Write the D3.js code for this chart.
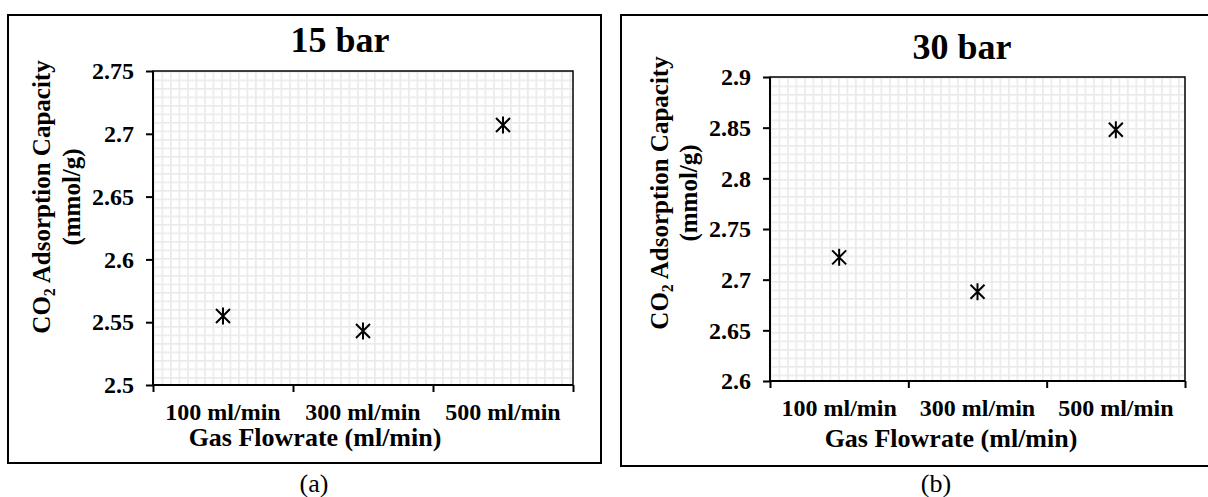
<!DOCTYPE html>
<html>
<head>
<meta charset="utf-8">
<script src="https://cdn.jsdelivr.net/npm/d3@7"></script>
<style>
  body { margin: 0; background: #fff; }
  svg text { font-family: "Liberation Serif", "Times New Roman", serif; fill: #000; }
</style>
</head>
<body>
<div id="viz"></div>
<script>
const W = 1208
const H = 497

// data
const categories = ["100 ml/min", "300 ml/min", "500 ml/min"]
const capacity15 = [2.555, 2.543, 2.707]
const capacity30 = [2.722, 2.688, 2.848]
const ticks15 = [2.5, 2.55, 2.6, 2.65, 2.7, 2.75]
const ticks30 = [2.6, 2.65, 2.7, 2.75, 2.8, 2.85, 2.9]
const titles = ["15 bar", "30 bar"]
const captions = ["(a)", "(b)"]

const panels = [
    { title: titles[0], caption: captions[0], values: capacity15, ticks: ticks15,
      box: [8, 15, 593, 448], plot: { left: 153, top: 71, right: 573, bottom: 385 },
      titleX: 340, titleY: 52, yl1: 50, yl2: 80, ylY: 197,
      xtY: 420, xaX: 315, xaY: 446, capX: 314 },
    { title: titles[1], caption: captions[1], values: capacity30, ticks: ticks30,
      box: [621, 15, 620, 451], plot: { left: 770, top: 77, right: 1185, bottom: 381 },
      titleX: 962, titleY: 59, yl1: 668, yl2: 697, ylY: 193,
      xtY: 416, xaX: 951, xaY: 447, capX: 936 }
]

let svg = d3.select("#viz")
    .append("svg")
    .attr("width", W)
    .attr("height", H)

const defs = svg.append("defs")

const starPath = () => {
    const p = d3.path()
    p.moveTo(-7, -7); p.lineTo(7, 7)
    p.moveTo(-7, 7); p.lineTo(7, -7)
    p.moveTo(0, -8.5); p.lineTo(0, 8.5)
    return p.toString()
}

panels.forEach((pn, k) => {
    const pl = pn.plot

    // light grid pattern like the excel plot area fill
    const pat = defs.append("pattern")
        .attr("id", "grid" + k)
        .attr("patternUnits", "userSpaceOnUse")
        .attr("x", pl.left)
        .attr("y", pl.top)
        .attr("width", 8.5)
        .attr("height", 8.5)
    pat.append("rect").attr("width", 8.5).attr("height", 8.5).style("fill", "#fff")
    pat.append("path")
        .attr("d", "M0,0.8H8.5M0.8,0V8.5")
        .style("stroke", "#ebebeb")
        .style("stroke-width", 1.8)

    // outer frame
    svg.append("rect")
        .attr("x", pn.box[0])
        .attr("y", pn.box[1])
        .attr("width", pn.box[2])
        .attr("height", pn.box[3])
        .style("fill", "none")
        .style("stroke", "#000")
        .style("stroke-width", 2)

    const x = d3.scaleBand()
        .domain(categories)
        .range([pl.left, pl.right])
    const xEdge = d3.scaleLinear()
        .domain([0, categories.length])
        .range([pl.left, pl.right])
    const y = d3.scaleLinear()
        .domain(d3.extent(pn.ticks))
        .range([pl.bottom, pl.top])

    svg.append("rect")
        .attr("x", pl.left)
        .attr("y", pl.top)
        .attr("width", pl.right - pl.left)
        .attr("height", pl.bottom - pl.top)
        .style("fill", "url(#grid" + k + ")")
        .style("stroke", "#000")
        .style("stroke-width", 1.5)

    // y axis
    const yAxis = svg.append("g")
        .attr("transform", `translate(${pl.left},0)`)
        .call(d3.axisLeft(y).tickValues(pn.ticks).tickSize(7).tickPadding(12)
            .tickFormat(d => String(d)))
    yAxis.select(".domain").style("stroke-width", 2).attr("d", `M0,${pl.top}V${pl.bottom}`)
    yAxis.selectAll(".tick line").style("stroke-width", 2)
    yAxis.selectAll("text")
        .style("font-size", "24px")
        .style("font-weight", "bold")

    // x axis: ticks on category edges, labels at band centres
    const xAxis = svg.append("g")
        .attr("transform", `translate(0,${pl.bottom})`)
        .call(d3.axisBottom(xEdge).tickValues(d3.range(categories.length + 1)).tickSize(7).tickFormat(""))
    xAxis.select(".domain").style("stroke-width", 2).attr("d", `M${pl.left},0H${pl.right}`)
    xAxis.selectAll(".tick line").style("stroke-width", 2)

    svg.append("g")
        .selectAll("text")
        .data(categories)
        .join("text")
        .attr("x", d => x(d) + x.bandwidth() / 2)
        .attr("y", pn.xtY)
        .attr("text-anchor", "middle")
        .style("font-size", "24px")
        .style("font-weight", "bold")
        .text(d => d)

    // markers
    svg.append("g")
        .selectAll("path")
        .data(pn.values)
        .join("path")
        .attr("transform", (d, i) => `translate(${x(categories[i]) + x.bandwidth() / 2},${y(d)})`)
        .attr("d", starPath())
        .style("fill", "none")
        .style("stroke", "#000")
        .style("stroke-width", 2)

    // titles and labels
    svg.append("text")
        .attr("x", pn.titleX)
        .attr("y", pn.titleY)
        .attr("text-anchor", "middle")
        .style("font-size", "36px")
        .style("font-weight", "bold")
        .text(pn.title)

    const yl = svg.append("text")
        .attr("transform", `translate(${pn.yl1},${pn.ylY}) rotate(-90)`)
        .attr("text-anchor", "middle")
        .style("font-size", "25px")
        .style("font-weight", "bold")
    yl.append("tspan").text("CO")
    yl.append("tspan").attr("dy", 5).style("font-size", "16px").text("2")
    yl.append("tspan").attr("dy", -5).text(" Adsorption Capacity")

    svg.append("text")
        .attr("transform", `translate(${pn.yl2},${pn.ylY}) rotate(-90)`)
        .attr("text-anchor", "middle")
        .style("font-size", "25px")
        .style("font-weight", "bold")
        .text("(mmol/g)")

    svg.append("text")
        .attr("x", pn.xaX)
        .attr("y", pn.xaY)
        .attr("text-anchor", "middle")
        .style("font-size", "26px")
        .style("font-weight", "bold")
        .text("Gas Flowrate (ml/min)")

    svg.append("text")
        .attr("x", pn.capX)
        .attr("y", 492)
        .attr("text-anchor", "middle")
        .style("font-size", "26px")
        .text(pn.caption)
})
</script>
</body>
</html>
